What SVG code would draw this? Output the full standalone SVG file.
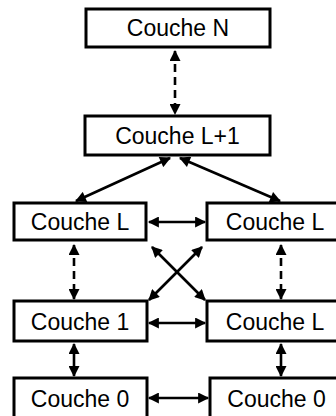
<svg xmlns="http://www.w3.org/2000/svg" width="336" height="416" viewBox="0 0 336 416">
<style>
.box{fill:#fff;stroke:#000;stroke-width:3}
.lbl{font-family:"Liberation Sans",Arial,sans-serif;font-size:23px;fill:#000;text-anchor:middle}
.ln{stroke:#000;stroke-width:2.6;fill:none;marker-start:url(#ah);marker-end:url(#ah)}
.dash{stroke-dasharray:8 5}
</style>
<defs>
<marker id="ah" markerUnits="userSpaceOnUse" viewBox="0 0 10 10" refX="9" refY="5" markerWidth="12" markerHeight="11" orient="auto-start-reverse">
<path d="M0,0 L10,5 L0,10 Z" fill="#000"/>
</marker>
</defs>
<rect width="336" height="416" fill="#fff"/>
<g id="connectors">
<line class="ln dash" x1="175" y1="51" x2="175" y2="114"/>
<line class="ln" x1="170" y1="158" x2="76" y2="201"/>
<line class="ln" x1="180" y1="158" x2="280" y2="201"/>
<line class="ln" x1="149" y1="222" x2="205" y2="222"/>
<line class="ln dash" x1="74" y1="245" x2="74" y2="299"/>
<line class="ln dash" x1="281" y1="245" x2="281" y2="299"/>
<line class="ln" x1="152" y1="247" x2="205" y2="300"/>
<line class="ln" x1="202" y1="247" x2="149" y2="300"/>
<line class="ln" x1="149" y1="323" x2="205" y2="323"/>
<line class="ln" x1="74" y1="344" x2="74" y2="376"/>
<line class="ln" x1="281" y1="344" x2="281" y2="376"/>
<line class="ln" x1="149" y1="398" x2="208" y2="398"/>
</g>
<g id="n-couche-n"><rect class="box" x="86" y="9" width="184" height="38"/><text class="lbl" x="178" y="36">Couche N</text></g>
<g id="n-couche-l1"><rect class="box" x="85" y="116" width="185" height="39"/><text class="lbl" x="177.5" y="144">Couche L+1</text></g>
<g id="n-couche-l-left"><rect class="box" x="14" y="203" width="132" height="37"/><text class="lbl" x="80" y="230">Couche L</text></g>
<g id="n-couche-l-right"><rect class="box" x="207" y="203" width="136" height="37"/><text class="lbl" x="275" y="230">Couche L</text></g>
<g id="n-couche-1"><rect class="box" x="14" y="301" width="133" height="40"/><text class="lbl" x="80" y="329.5">Couche 1</text></g>
<g id="n-couche-l-right2"><rect class="box" x="207" y="301" width="136" height="40"/><text class="lbl" x="275" y="329.5">Couche L</text></g>
<g id="n-couche-0-left"><rect class="box" x="14" y="378" width="133" height="42"/><text class="lbl" x="80" y="406.5">Couche 0</text></g>
<g id="n-couche-0-right"><rect class="box" x="210" y="378" width="133" height="42"/><text class="lbl" x="276.5" y="406.5">Couche 0</text></g>
</svg>
